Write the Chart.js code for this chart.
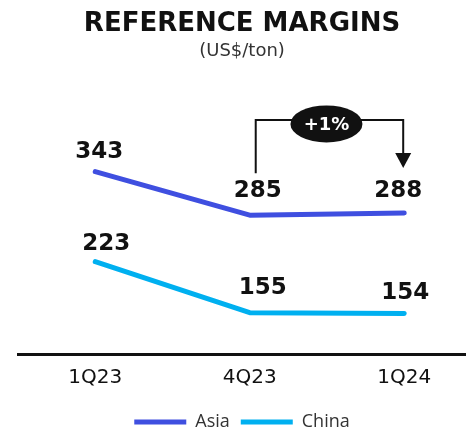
<!DOCTYPE html>
<html>
<head>
<meta charset="utf-8">
<script src="https://cdn.jsdelivr.net/npm/chart.js@4"></script>
<style>
  html, body { margin: 0; padding: 0; background: #fff; }
  #wrap { width: 466px; height: 428px; }
</style>
</head>
<body>
<div id="wrap"><canvas id="marginChart"></canvas></div>
<script>
// Quarters shown on the x axis
var quarters = ['1Q23', '4Q23', '1Q24'];
// Reference margins, US$/ton
var asiaMargins = [343, 285, 288];
var chinaMargins = [223, 155, 154];
var seriesNames = ['Asia', 'China'];

var asiaColor = '#3f4fe0';
var chinaColor = '#00b0f0';

// x is linear so the three quarters sit where we want them along the axis line
function toPoints(values) {
    return values.map(function (v, i) { return { x: i, y: v }; });
}

// Value labels above each point (small nudges per point, in px)
var valueLabels = {
    id: 'valueLabels',
    afterDatasetsDraw: function (chart, args, opts) {
        var ctx = chart.ctx;
        ctx.save();
        ctx.font = 'bold 23px "DejaVu Sans"';
        ctx.fillStyle = '#111';
        ctx.textAlign = 'center';
        ctx.textBaseline = 'middle';
        chart.data.datasets.forEach(function (ds, i) {
            var meta = chart.getDatasetMeta(i);
            meta.data.forEach(function (pt, j) {
                var n = opts.nudges[i][j];
                ctx.fillText(String(ds.data[j].y), pt.x + n[0], pt.y + n[1]);
            });
        });
        ctx.restore();
    }
};

// Bracket from 4Q23 to 1Q24 on the Asia line with the % change in a black oval
var changeBracket = {
    id: 'changeBracket',
    afterDatasetsDraw: function (chart) {
        var ctx = chart.ctx;
        var pts = chart.getDatasetMeta(0).data;
        var p1 = pts[1], p2 = pts[2];
        var left = p1.x + 6, right = p2.x - 1;
        var leftBottom = p1.y - 42;
        var tip = p2.y - 45;
        var top = Math.min(p1.y, p2.y) - 93;

        ctx.save();
        ctx.strokeStyle = '#111';
        ctx.fillStyle = '#111';
        ctx.lineWidth = 2;
        ctx.beginPath();
        ctx.moveTo(left, leftBottom);
        ctx.lineTo(left, top);
        ctx.lineTo(right, top);
        ctx.lineTo(right, tip - 14);
        ctx.stroke();

        ctx.beginPath();
        ctx.moveTo(right - 8, tip - 15);
        ctx.lineTo(right + 8, tip - 15);
        ctx.lineTo(right, tip);
        ctx.closePath();
        ctx.fill();

        var cx = (left + right) / 2 - 3, cy = top + 4;
        ctx.beginPath();
        ctx.ellipse(cx, cy, 36, 18.5, 0, 0, Math.PI * 2);
        ctx.fill();

        var pct = Math.round((asiaMargins[2] / asiaMargins[1] - 1) * 100);
        ctx.fillStyle = '#fff';
        ctx.font = 'bold 18px "DejaVu Sans"';
        ctx.textAlign = 'center';
        ctx.textBaseline = 'middle';
        ctx.fillText((pct >= 0 ? '+' : '') + pct + '%', cx, cy + 1);
        ctx.restore();
    }
};

var ctx = document.getElementById('marginChart').getContext('2d');

var marginChart = new Chart(ctx, {
    type: 'line',
    data: {
        datasets: [{
            label: seriesNames[0],
            data: toPoints(asiaMargins),
            borderColor: asiaColor,
            backgroundColor: asiaColor,
            borderWidth: 5,
            borderCapStyle: 'round',
            borderJoinStyle: 'round',
            pointRadius: 0,
            tension: 0
        }, {
            label: seriesNames[1],
            data: toPoints(chinaMargins),
            borderColor: chinaColor,
            backgroundColor: chinaColor,
            borderWidth: 5,
            borderCapStyle: 'round',
            borderJoinStyle: 'round',
            pointRadius: 0,
            tension: 0
        }]
    },
    options: {
        responsive: true,
        maintainAspectRatio: false,
        animation: false,
        // legend is allowed to run a little past the bottom edge
        layout: { padding: { left: 18, right: 0, top: 0, bottom: -13 } },
        scales: {
            x: {
                type: 'linear',
                min: -0.5,
                max: 2.4,
                afterBuildTicks: function (axis) {
                    axis.ticks = quarters.map(function (q, i) { return { value: i }; });
                },
                grid: { display: false, drawTicks: false },
                border: { display: true, color: '#111', width: 3 },
                ticks: {
                    callback: function (v) { return quarters[v]; },
                    font: { family: 'DejaVu Sans', size: 20, lineHeight: 1 },
                    color: '#111',
                    padding: 14,
                    maxRotation: 0
                }
            },
            y: { display: false, min: 100, max: 462.7 }
        },
        plugins: {
            title: {
                display: true,
                text: 'REFERENCE MARGINS',
                font: { family: 'DejaVu Sans', size: 26, weight: 'bold' },
                color: '#111',
                padding: { top: 9, bottom: 0 }
            },
            subtitle: {
                display: true,
                text: '(US$/ton)',
                font: { family: 'DejaVu Sans', size: 18 },
                color: '#333',
                padding: { top: 0, bottom: 20 }
            },
            legend: {
                position: 'bottom',
                labels: {
                    usePointStyle: true,
                    pointStyle: 'line',
                    pointStyleWidth: 52,
                    font: { family: 'Open Sans', size: 18 },
                    color: '#333',
                    padding: 11
                }
            },
            tooltip: { enabled: false },
            valueLabels: {
                nudges: [
                    [[4, -20], [8, -24], [-6, -22]],
                    [[11, -18], [13, -25], [1, -20]]
                ]
            }
        }
    },
    plugins: [valueLabels, changeBracket]
});
</script>
</body>
</html>
